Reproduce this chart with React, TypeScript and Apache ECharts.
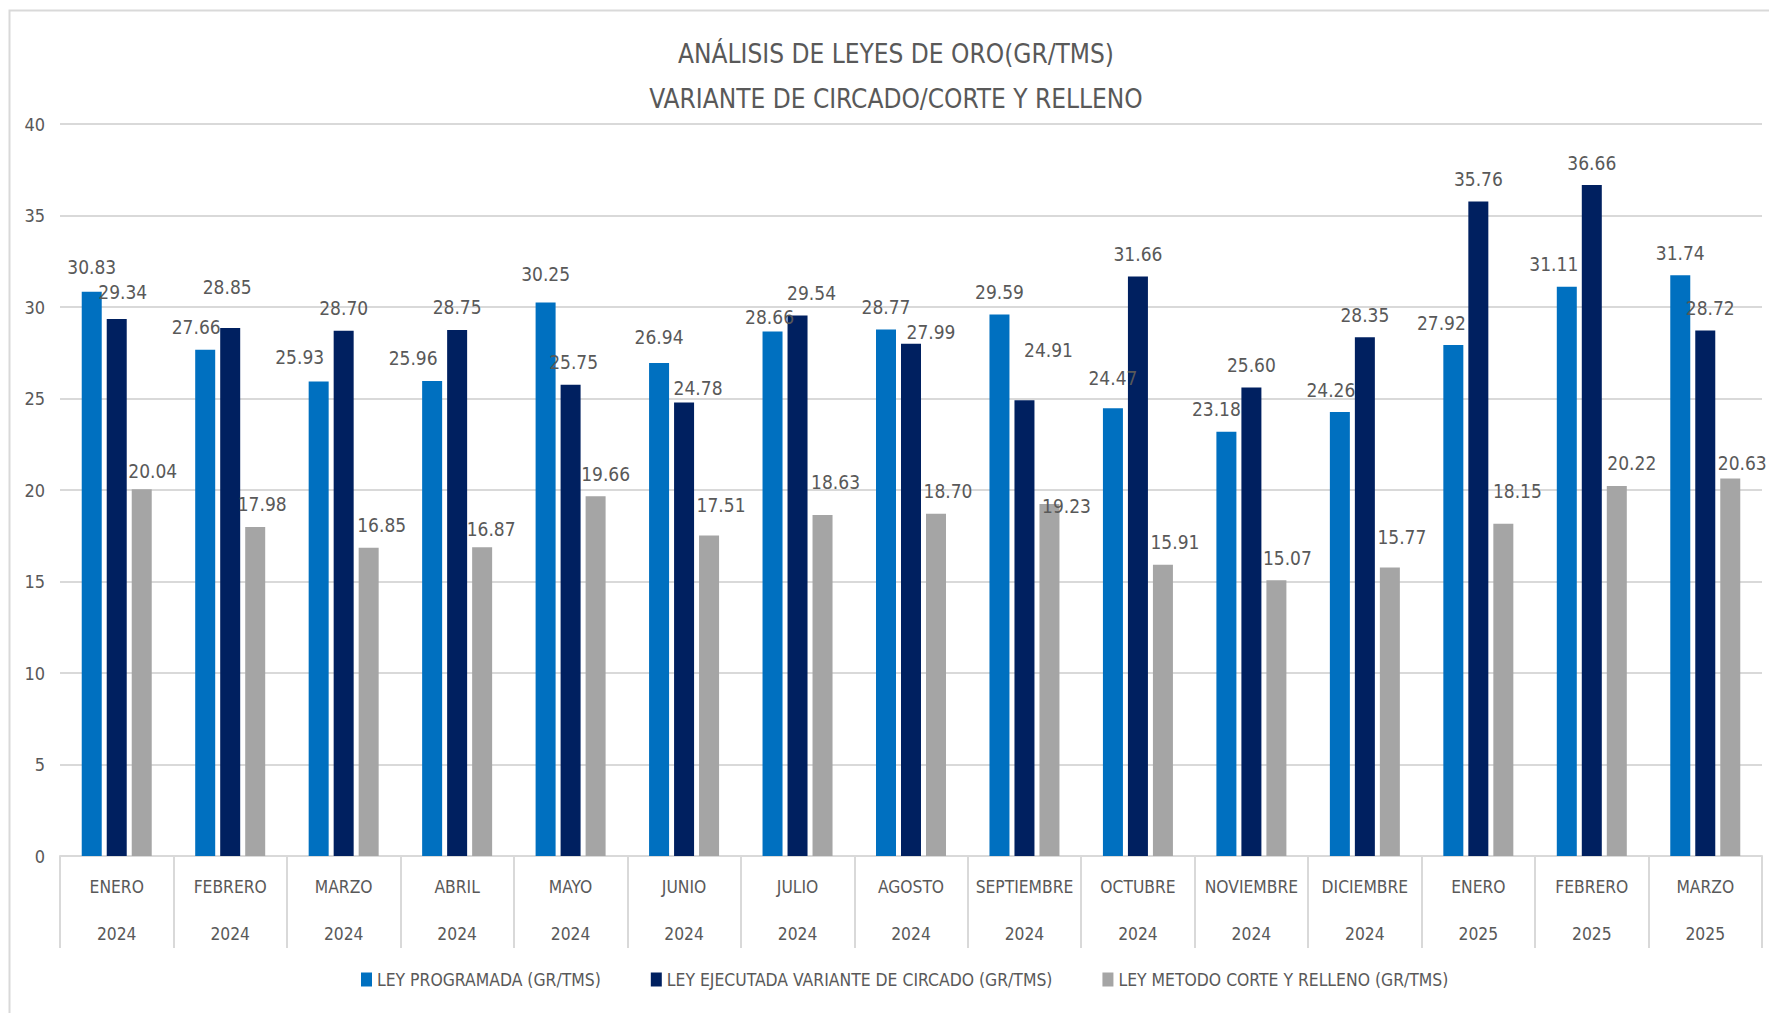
import React, { useEffect, useRef } from "react";
import * as echarts from "echarts";

// Months and years shown on the two-level category axis
const MONTHS = [
  "ENERO", "FEBRERO", "MARZO", "ABRIL", "MAYO", "JUNIO", "JULIO", "AGOSTO",
  "SEPTIEMBRE", "OCTUBRE", "NOVIEMBRE", "DICIEMBRE", "ENERO", "FEBRERO", "MARZO",
];
const YEARS = [
  "2024", "2024", "2024", "2024", "2024", "2024", "2024", "2024",
  "2024", "2024", "2024", "2024", "2025", "2025", "2025",
];

// Gold grades (gr/TMS)
const LEY_PROGRAMADA = [
  30.83, 27.66, 25.93, 25.96, 30.25, 26.94, 28.66, 28.77, 29.59, 24.47, 23.18, 24.26, 27.92, 31.11, 31.74,
];
const LEY_EJECUTADA = [
  29.34, 28.85, 28.7, 28.75, 25.75, 24.78, 29.54, 27.99, 24.91, 31.66, 25.6, 28.35, 35.76, 36.66, 28.72,
];
const LEY_CORTE = [
  20.04, 17.98, 16.85, 16.87, 19.66, 17.51, 18.63, 18.7, 19.23, 15.91, 15.07, 15.77, 18.15, 20.22, 20.63,
];

const SERIES_NAMES = [
  "LEY PROGRAMADA (GR/TMS)",
  "LEY EJECUTADA VARIANTE DE CIRCADO (GR/TMS)",
  "LEY METODO CORTE Y RELLENO (GR/TMS)",
];
const COLORS = ["#0070C0", "#002060", "#A5A5A5"];

const Y_TICKS = { min: 0, max: 40, interval: 5 };

// Hand-placed data label nudges [dx, dy] in pixels
const NUDGE_PROGRAMADA: [number, number][] = [
  [0, -2], [-9, 0], [-19, -2], [-19, 0], [0, -6], [0, -3], [-3, 8], [0, 0],
  [0, 0], [0, -8], [-10, 0], [-9, 0], [-12, 0], [-13, 0], [0, 0],
];
const NUDGE_EJECUTADA: [number, number][] = [
  [6, -5], [-3, -19], [0, 0], [0, 0], [3, 0], [14, 8], [14, 0], [20, 11],
  [24, -28], [0, 0], [0, 0], [0, 0], [0, 0], [0, 0], [5, 0],
];
const NUDGE_CORTE: [number, number][] = [
  [11, 4], [7, 0], [13, 0], [9, 4], [10, 0], [12, -8], [13, -11], [12, 0],
  [17, 24], [12, 0], [11, 0], [12, -8], [14, -10], [15, 0], [12, 7],
];

const FONT = "'Liberation Sans Narrow', 'DejaVu Sans Condensed', 'Liberation Sans', sans-serif";
const TEXT = "#595959";
const LINE = "#D9D9D9";

function buildSeries(name: string, values: number[], nudges: [number, number][], color: string) {
  return {
    name,
    type: "bar",
    barWidth: 20,
    barGap: "25%",
    itemStyle: { color },
    label: {
      show: true,
      position: "top",
      distance: 13,
      color: TEXT,
      fontFamily: FONT,
      fontSize: 19,
      formatter: (p: any) => Number(p.value).toFixed(2),
    },
    data: values.map((v, i) => ({
      value: v,
      label: { offset: nudges[i] },
    })),
  };
}

export default function App() {
  const ref = useRef<HTMLDivElement>(null);

  useEffect(() => {
    if (!ref.current) return;
    const chart = echarts.init(ref.current, null, { renderer: "svg" });
    chart.setOption({
      animation: false,
      backgroundColor: "#FFFFFF",
      textStyle: { fontFamily: FONT },
      title: {
        text: "ANÁLISIS DE LEYES DE ORO(GR/TMS)\nVARIANTE DE CIRCADO/CORTE Y RELLENO",
        left: 891,
        top: 26,
        textAlign: "center",
        textStyle: {
          color: TEXT,
          fontFamily: FONT,
          fontSize: 26,
          fontWeight: "normal",
          lineHeight: 45,
        },
      },
      graphic: [
        {
          type: "rect",
          silent: true,
          shape: { x: 9.5, y: 10.5, width: 1800, height: 1100 },
          style: { fill: "none", stroke: LINE, lineWidth: 2 },
          z: -1,
        },
      ],
      legend: {
        left: 356,
        top: 966,
        itemWidth: 11,
        itemHeight: 14,
        itemGap: 50,
        icon: "rect",
        textStyle: { color: TEXT, fontFamily: FONT, fontSize: 17.4 },
        data: SERIES_NAMES,
      },
      grid: { left: 60, right: 7, top: 124, bottom: 157, containLabel: false },
      xAxis: {
        type: "category",
        data: MONTHS.map((m, i) => `${m}\n${YEARS[i]}`),
        axisLine: { lineStyle: { color: LINE, width: 2 } },
        axisTick: { show: true, interval: 0, length: 92, lineStyle: { color: LINE, width: 2 } },
        axisLabel: {
          interval: 0,
          margin: 7,
          color: TEXT,
          fontFamily: FONT,
          fontSize: 17.3,
          lineHeight: 47,
        },
      },
      yAxis: {
        type: "value",
        min: Y_TICKS.min,
        max: Y_TICKS.max,
        interval: Y_TICKS.interval,
        axisLine: { show: false },
        axisTick: { show: false },
        axisLabel: { color: TEXT, fontFamily: FONT, fontSize: 18, margin: 15 },
        splitLine: { lineStyle: { color: LINE, width: 2 } },
      },
      series: [
        buildSeries(SERIES_NAMES[0], LEY_PROGRAMADA, NUDGE_PROGRAMADA, COLORS[0]),
        buildSeries(SERIES_NAMES[1], LEY_EJECUTADA, NUDGE_EJECUTADA, COLORS[1]),
        buildSeries(SERIES_NAMES[2], LEY_CORTE, NUDGE_CORTE, COLORS[2]),
      ],
    });
    return () => chart.dispose();
  }, []);

  return (
    <div
      ref={ref}
      style={{ position: "fixed", left: 0, top: 0, width: 1769, height: 1013, background: "#FFFFFF" }}
    />
  );
}
